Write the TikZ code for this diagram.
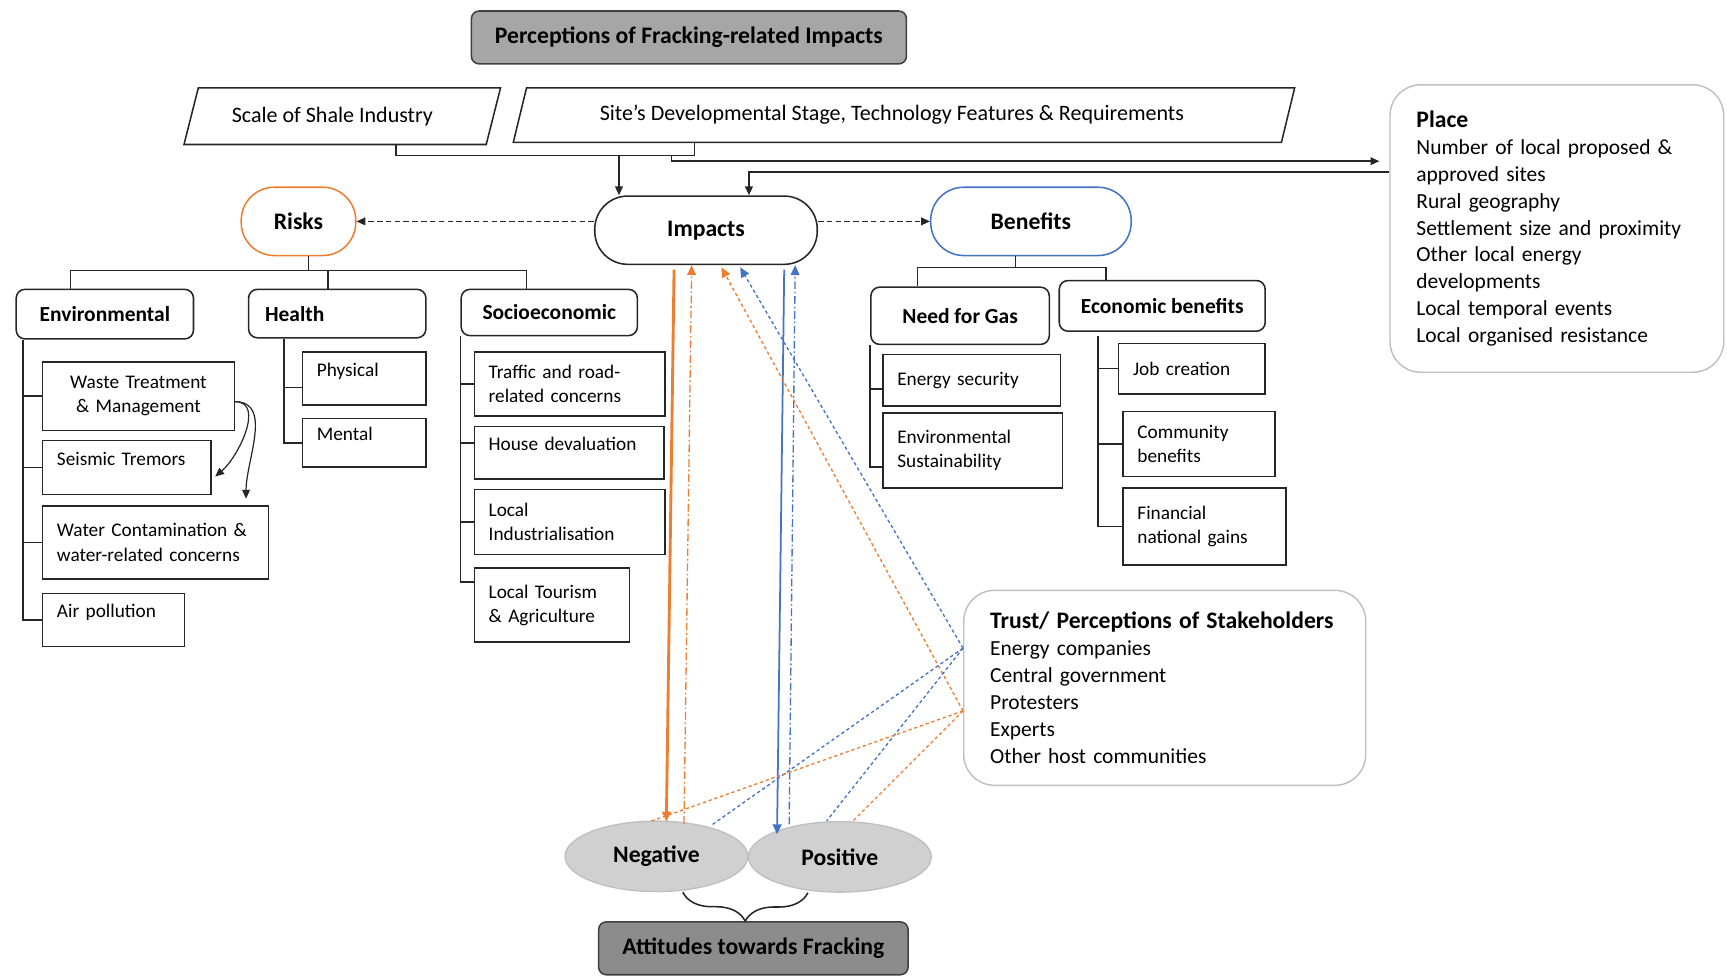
\documentclass[tikz,border=0pt]{standalone}
\usepackage{fontspec}
\setmainfont{Carlito}
\usepackage{tikz}
\usetikzlibrary{positioning, arrows.meta, calc, shapes.geometric, decorations.pathreplacing}
\definecolor{riskcolor}{HTML}{ED7D31}
\definecolor{benefitcolor}{HTML}{4472C4}
\definecolor{framegray}{HTML}{BFBFBF}
\definecolor{titlegray}{HTML}{A6A6A6}
\definecolor{attgray}{HTML}{8C8C8C}
\definecolor{ovalgray}{HTML}{D0D0D0}
\newcommand{\headfont}{\fontsize{21.5}{25}\selectfont\bfseries}
\newcommand{\subfont}{\fontsize{19.5}{23}\selectfont\bfseries}
\newcommand{\leaffont}{\fontsize{17.5}{22}\selectfont}
\newcommand{\listfont}{\fontsize{19.5}{24.5}\selectfont}
\newcommand{\shaleframe}[2]{%
  \draw[boxline] ($(#1.south west)+(-#2,0)$) -- ($(#1.north west)+(#2,0)$)
    -- ($(#1.north east)+(#2,0)$) -- ($(#1.south east)+(-#2,0)$) -- cycle;}
\tikzset{
    boxline/.style    = {line width=1.4pt, black!85},
    topnode/.style    = {draw=black!75, line width=1.4pt, rounded corners=7pt,
                         font=\headfont, inner sep=0pt},
    slanttext/.style  = {font=\fontsize{20}{24}\selectfont, inner sep=0pt},
    mainnode/.style   = {draw=black!85, line width=1.4pt, rounded corners=30pt,
                         font=\headfont, inner sep=0pt, fill=white},
    subnode/.style    = {draw=black!85, line width=1.4pt, rounded corners=8pt,
                         font=\subfont, inner sep=0pt, anchor=north west},
    leafnode/.style 2 args = {draw=black!85, line width=1.4pt, font=\leaffont,
                         align=left, anchor=north west, inner xsep=13pt,
                         inner ysep=0pt, text width=#1, minimum height=#2},
    uptext/.style     = {text depth=16pt},
    infonode/.style   = {draw=framegray, line width=1.3pt, rounded corners=28pt,
                         font=\listfont, align=left, inner xsep=24pt},
    oval/.style       = {ellipse, draw=framegray, fill=ovalgray, line width=1.2pt,
                         font=\headfont, minimum width=166pt, minimum height=64pt,
                         inner sep=0pt},
    treeline/.style   = {line width=1.4pt, black!85},
    arrowline/.style  = {treeline, -{Triangle[length=8pt, width=7pt]}},
    linkdash/.style   = {arrowline, dash pattern=on 5pt off 3pt},
    negsolid/.style   = {draw=riskcolor, line width=2.6pt, -{Triangle[length=9pt, width=8pt]}},
    possolid/.style   = {draw=benefitcolor, line width=1.6pt, -{Triangle[length=9pt, width=8pt]}},
    dashdot/.style    = {line width=1.2pt, dash pattern=on 7pt off 2.5pt on 1.5pt off 2.5pt,
                         -{Triangle[length=9pt, width=8pt]}},
    trustline/.style  = {line width=1.2pt, dash pattern=on 3pt off 2.5pt},
    trustarrow/.style = {trustline, -{Triangle[length=9pt, width=8pt]}},
}

\begin{document}
\begin{tikzpicture}[x=1pt, y=-1pt]
\useasboundingbox (0,0) rectangle (1568,886);

% context
\node[topnode, fill=titlegray, minimum width=395pt, minimum height=48pt] (Title)
    at (625.5,34) {Perceptions of Fracking-related Impacts};

\node[slanttext, minimum width=274pt, minimum height=51pt] (Scale)
    at (310.75,105.5) {Scale of Shale Industry\hspace*{18pt}};
\shaleframe{Scale}{6.5}
\node[slanttext, minimum width=697pt, minimum height=49pt] (Site)
    at (820.75,104.5) {Site’s Developmental Stage, Technology Features \& Requirements\hspace*{22pt}};
\shaleframe{Site}{6}

\node[infonode, text width=255pt, minimum height=261pt] (Place) at (1413.5,207.5)
    {{\headfont Place}\\Number of local proposed \&\\approved sites\\Rural geography\\
     Settlement size and proximity\\Other local energy\\developments\\
     Local temporal events\\Local organised resistance};

% impacts
\node[mainnode, minimum width=202pt, minimum height=62pt] (Impacts) at (641,209) {Impacts};
\node[mainnode, draw=riskcolor, minimum width=104pt, minimum height=62pt] (Risks)
    at (271,201) {Risks};
\node[mainnode, draw=benefitcolor, minimum width=182pt, minimum height=62pt] (Benefits)
    at (936,201) {Benefits};

% risks
\node[subnode, minimum width=161pt, minimum height=45pt] (Env) at (14,262) {Environmental};
\node[subnode, minimum width=161pt, minimum height=44pt, text width=131pt, inner xsep=15pt,
      align=left] (Health) at (225,262) {Health};
\node[subnode, minimum width=160pt, minimum height=42pt] (Socio) at (418,262) {Socioeconomic};

\node[leafnode={148pt}{62pt}, align=center] (Waste) at (38,328) {Waste Treatment\\\& Management};
\node[leafnode={127pt}{49pt}, uptext, below right=8pt and 0pt of Waste.south west] (Seismic)
    {Seismic Tremors};
\node[leafnode={179pt}{66pt}, below right=9pt and 0pt of Seismic.south west] (Water)
    {Water Contamination \&\\water-related concerns};
\node[leafnode={103pt}{48pt}, uptext, below right=12pt and 0pt of Water.south west] (Air)
    {Air pollution};

\node[leafnode={86pt}{48pt}, uptext] (Physical) at (274,319) {Physical};
\node[leafnode={86pt}{44pt}, uptext, below right=11pt and 0pt of Physical.south west] (Mental)
    {Mental};

\node[leafnode={147pt}{58pt}] (Traffic) at (430,319) {Traffic and road-\\related concerns};
\node[leafnode={146pt}{48pt}, uptext, below right=8pt and 0pt of Traffic.south west] (House)
    {House devaluation};
\node[leafnode={147pt}{59pt}, below right=8pt and 0pt of House.south west] (LocalInd)
    {Local\\Industrialisation};
\node[leafnode={115pt}{67pt}, below right=11pt and 0pt of LocalInd.south west] (Tourism)
    {Local Tourism\\\& Agriculture};

% benefits
\node[subnode, minimum width=162pt, minimum height=52pt] (Need) at (790,260) {Need for Gas};
\node[subnode, minimum width=187pt, minimum height=46pt] (Econ) at (961,254) {Economic benefits};

\node[leafnode={135pt}{47pt}] (Energy) at (801,321) {Energy security};
\node[leafnode={137pt}{68pt}, below right=5pt and 0pt of Energy.south west] (EnvSust)
    {Environmental\\Sustainability};

\node[leafnode={107pt}{46pt}] (Job) at (1015,311) {Job creation};
\node[leafnode={112pt}{59pt}] (Community) at (1019,373) {Community\\benefits};
\node[leafnode={122pt}{70pt}, below right=9pt and 0pt of Community.south west] (Financial)
    {Financial\\national gains};

% stakeholders and attitudes
\node[infonode, text width=317pt, minimum height=177pt] (Trust) at (1057.5,624.5)
    {{\headfont Trust/ Perceptions of Stakeholders}\\Energy companies\\Central government\\
     Protesters\\Experts\\Other host communities};

\node[oval] (Negative) at (596,777.5) {Negative};
\node[oval] (Positive) at (762.5,778) {Positive};
\node[topnode, fill=attgray, minimum width=281pt, minimum height=48pt] (Attitudes)
    at (684,861) {Attitudes towards Fracking};

% context connectors
\coordinate (sbar) at ($(Site.south)+(-190,12)$);
\draw[treeline] ($(Scale.south)+(49,0)$) |- (sbar) -- ($(Site.south)+(-190,0)$);
\draw[arrowline] ($(sbar -| Impacts.north)+(-79,0)$) -- ($(Impacts.north)+(-79,0)$);
\draw[arrowline] ($(sbar)+(-21,0)$) |- ($(Place.north west)+(-9,70)$);
\draw[arrowline] ($(Place.north west)+(0,80)$) -| ($(Impacts.north)+(39,0)$);

\draw[linkdash] (Impacts.west |- Risks.east) -- (Risks.east);
\draw[linkdash] (Impacts.east |- Benefits.west) -- (Benefits.west);

% risk tree
\coordinate (rbar) at ($(Risks.south)+(9,13)$);
\draw[treeline] ($(Risks.south)+(9,0)$) -- (rbar);
\draw[treeline] (rbar) -| ($(Env.north west)+(50,0)$);
\draw[treeline] (rbar) -| ($(Socio.north west)+(60,0)$);
\draw[treeline] ($(Health.north west)+(73,0)$) |- (rbar);

\coordinate (envroot) at ($(Env.south west)+(7,0)$);
\draw[treeline] (envroot) |- (Waste.west);
\draw[treeline] (envroot) |- (Seismic.west);
\draw[treeline] (envroot) |- (Water.west);
\draw[treeline] (envroot) |- (Air.west);
\draw[arrowline, line width=1.1pt] ($(Waste.east)+(0,5)$) to[out=0, in=40]
    ($(Seismic.east)+(3,8)$);
\draw[arrowline, line width=1.1pt] ($(Waste.east)+(0,5)$) to[out=0, in=90]
    ($(Water.north east)+(-21,-6)$);

\coordinate (hroot) at ($(Health.south west)+(33,0)$);
\draw[treeline] (hroot) |- ($(Physical.west)+(0,8)$);
\draw[treeline] (hroot) |- (Mental.west);

\coordinate (sroot) at (Socio.south west);
\draw[treeline] (sroot) |- (Traffic.west);
\draw[treeline] (sroot) |- ($(House.west)+(0,-9)$);
\draw[treeline] (sroot) |- (LocalInd.west);
\draw[treeline] (sroot) |- ($(Tourism.north west)+(0,13)$);

% benefit tree
\coordinate (bbar) at ($(Benefits.south)+(-14,10)$);
\draw[treeline] ($(Benefits.south)+(-14,0)$) -- (bbar);
\draw[treeline] (bbar) -| ($(Need.north west)+(43,0)$);
\draw[treeline] (bbar) -| ($(Econ.north west)+(43,0)$);

\coordinate (nroot) at (Need.south west);
\draw[treeline] (nroot) |- ($(Energy.west)+(0,8)$);
\draw[treeline] (nroot) |- ($(EnvSust.west)+(0,15)$);

\coordinate (eroot) at ($(Econ.south west)+(36,4)$);
\draw[treeline] (eroot) |- (Job.west);
\draw[treeline] (eroot) |- (Community.west);
\draw[treeline] (eroot) |- (Financial.west);

% impacts <-> attitudes
\draw[negsolid] ($(Impacts.south)+(-29,4)$) -- ($(Negative.north)+(9,1)$);
\draw[dashdot, riskcolor] ($(Negative.north)+(25,3)$) -- ($(Impacts.south)+(-13,0)$);
\draw[possolid] ($(Impacts.south)+(71,4)$) -- ($(Positive.north)+(-57,12)$);
\draw[dashdot, benefitcolor] ($(Positive.north)+(-46,3)$) -- ($(Impacts.south)+(81,0)$);

\coordinate (trustB) at ($(Trust.west)+(0,-36)$);
\coordinate (trustO) at ($(Trust.west)+(0,21)$);
\draw[trustarrow, riskcolor] (trustO) -- ($(Impacts.south)+(14,2)$);
\draw[trustarrow, benefitcolor] (trustB) -- ($(Impacts.south)+(31,2)$);
\draw[trustline, benefitcolor] (trustB) -- ($(Negative.north)+(49,5)$);
\draw[trustline, benefitcolor] (trustB) -- ($(Positive.north)+(-12,0)$);
\draw[trustline, riskcolor] (trustO) -- ($(Negative.north)+(-6,1)$);
\draw[trustline, riskcolor] (trustO) -- ($(Positive.north)+(11,1)$);

\coordinate (negfoot) at ($(Negative.south)+(24,0)$);
\coordinate (posfoot) at ($(Positive.south)+(-29,0)$);
\draw[treeline, decorate, decoration={brace, mirror, amplitude=26pt}] (negfoot) -- (posfoot);

\end{tikzpicture}
\end{document}
